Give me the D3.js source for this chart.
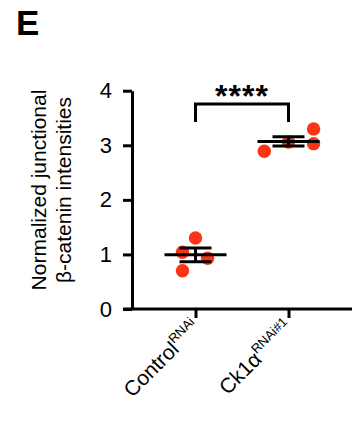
<!DOCTYPE html>
<html>
<head>
<meta charset="utf-8">
<script src="https://cdn.jsdelivr.net/npm/d3@7"></script>
<style>
  html, body { margin: 0; padding: 0; background: #fff; }
  svg { display: block; font-family: 'Liberation Sans', Arial, sans-serif; }
</style>
</head>
<body>
<div id="chart"></div>
<script>
// group labels (main text + superscript)
const groups = ['Control', 'Ck1α'];
const groupSup = ['RNAi', 'RNAi#1'];
// per-animal normalized intensities
const controlVals = [1.30, 1.04, 0.93, 0.70];
const ck1aVals = [2.89, 3.06, 3.30, 3.03];
// horizontal scatter offsets (fraction of category step)
const controlJitter = [0, -0.14, 0.13, -0.14];
const ck1aJitter = [-0.26, 0, 0.27, 0.27];
const yTicks = [0, 1, 2, 3, 4];
const sigLabel = '****';

const W = 357, H = 428;
const DOT = '#fa3414';

const svg = d3.select('#chart').append('svg').attr('width', W).attr('height', H);

const y = d3.scaleLinear().domain([0, 4]).range([309, 90.7]);
const x = d3.scalePoint().domain(groups).range([132, 352]).padding(0.683);
const step = x.step();

// panel letter
svg.append('text').attr('x', 16).attr('y', 35)
  .attr('font-size', 35).attr('font-weight', 'bold').text('E');

// y axis
const yAxis = svg.append('g').attr('transform', 'translate(132,0)')
  .call(d3.axisLeft(y).tickValues(yTicks).tickFormat(d3.format('d'))
    .tickSize(9).tickSizeOuter(0).tickPadding(11));
yAxis.selectAll('text').attr('font-size', 22).attr('fill', '#000')
  .style('font-family', "'Liberation Sans', Arial, sans-serif");

// x axis
const xAxis = svg.append('g').attr('transform', 'translate(0,309)')
  .call(d3.axisBottom(x).tickSize(9).tickSizeOuter(0).tickFormat(''));

svg.selectAll('.domain, .tick line').attr('stroke', '#000').attr('stroke-width', 3);
xAxis.select('.domain').attr('d', 'M123,0H352');

// rotated x labels with superscripts
groups.forEach((g, i) => {
  const t = svg.append('text')
    .attr('transform', `translate(${x(g) + 6},${329}) rotate(-45)`)
    .attr('text-anchor', 'end')
    .attr('font-size', 21);
  t.append('tspan').text(g);
  t.append('tspan').attr('font-size', 13).attr('dy', -9).text(groupSup[i]);
});

// y title
const yt = svg.append('text')
  .attr('transform', `translate(0,190) rotate(-90)`)
  .attr('text-anchor', 'middle').attr('font-size', 21);
yt.append('tspan').attr('x', 0).attr('y', 46).text('Normalized junctional');
yt.append('tspan').attr('x', 0).attr('y', 71).text('β-catenin intensities');

// data points + mean ± SEM
const series = [
  { g: groups[0], vals: controlVals, jit: controlJitter },
  { g: groups[1], vals: ck1aVals, jit: ck1aJitter }
];

series.forEach(s => {
  const cx = x(s.g);
  s.vals.forEach((v, i) => {
    svg.append('circle')
      .attr('cx', cx + s.jit[i] * step)
      .attr('cy', y(v))
      .attr('r', 6.7)
      .attr('fill', DOT);
  });
  const m = d3.mean(s.vals);
  const sem = d3.deviation(s.vals) / Math.sqrt(s.vals.length);
  const g = svg.append('g').attr('stroke', '#000').attr('stroke-width', 3);
  g.append('line').attr('x1', cx - 31).attr('x2', cx + 31).attr('y1', y(m)).attr('y2', y(m));
  g.append('line').attr('x1', cx).attr('x2', cx).attr('y1', y(m - sem)).attr('y2', y(m + sem));
  [m - sem, m + sem].forEach(v => {
    g.append('line').attr('x1', cx - 16).attr('x2', cx + 16).attr('y1', y(v)).attr('y2', y(v));
  });
});

// significance bracket
const bx1 = x(groups[0]), bx2 = x(groups[1]);
svg.append('path')
  .attr('d', `M${bx1},122V104H${bx2}V122`)
  .attr('fill', 'none').attr('stroke', '#000').attr('stroke-width', 3);
svg.append('text')
  .attr('x', (bx1 + bx2) / 2).attr('y', 107)
  .attr('text-anchor', 'middle').attr('font-size', 32).attr('font-weight', 'bold')
  .attr('letter-spacing', 1)
  .text(sigLabel);
</script>
</body>
</html>
